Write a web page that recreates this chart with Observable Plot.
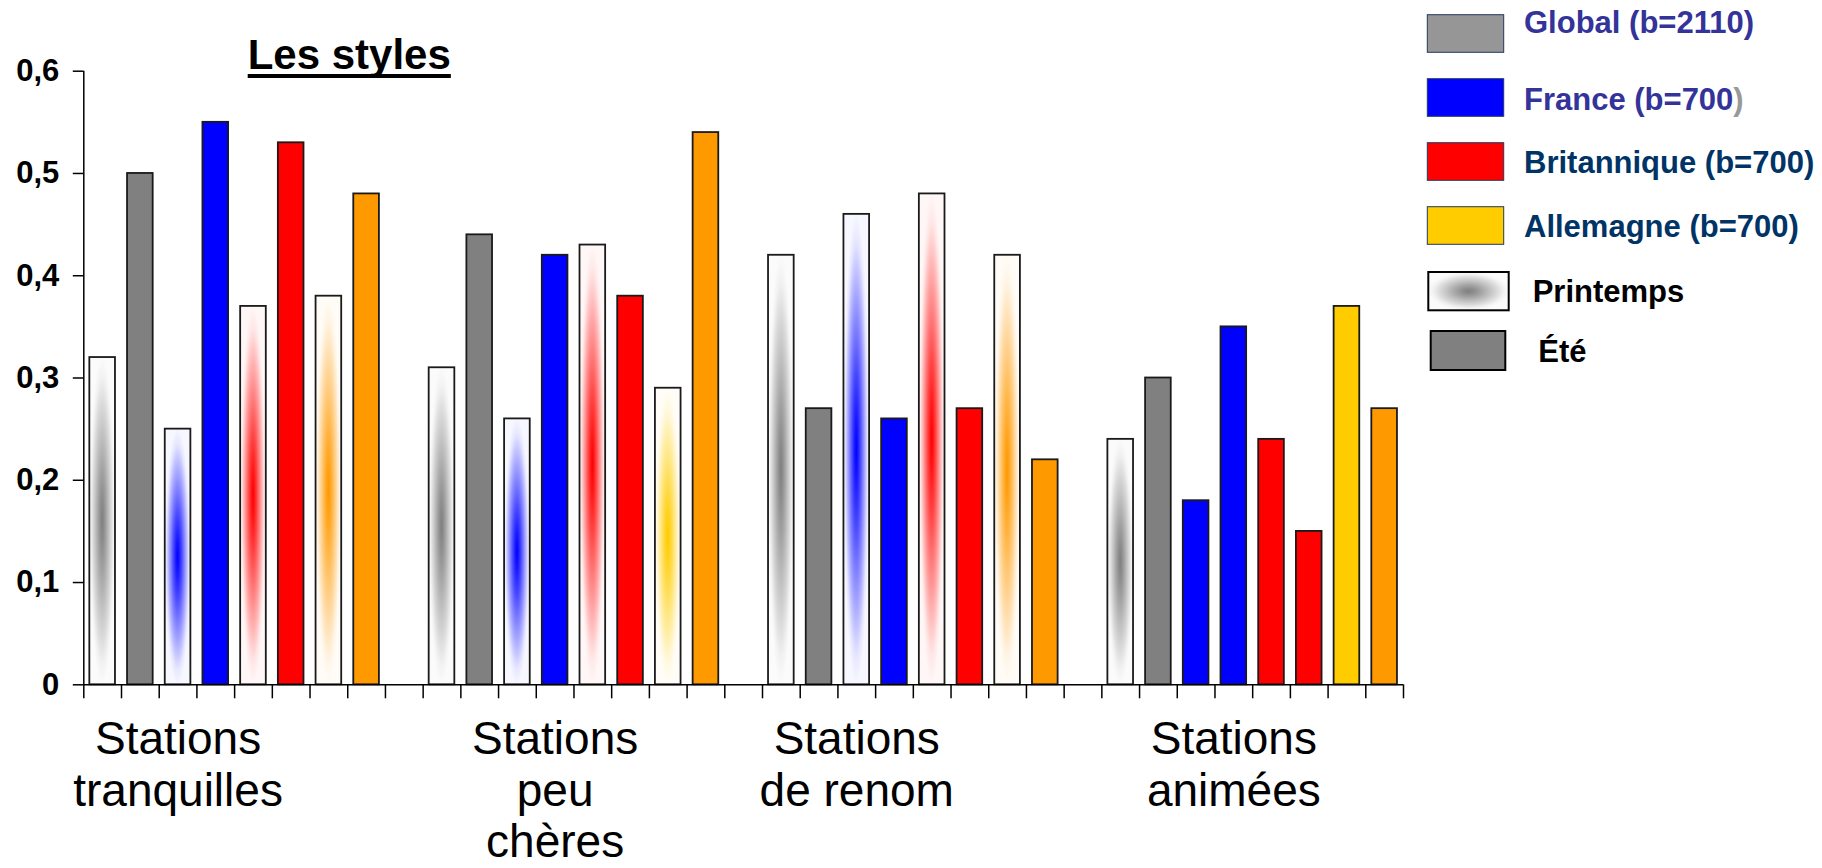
<!DOCTYPE html>
<html lang="fr">
<head>
<meta charset="utf-8">
<script src="https://cdn.jsdelivr.net/npm/d3@7"></script>
<script src="https://cdn.jsdelivr.net/npm/@observablehq/plot@0.6"></script>
<style>
  html, body { margin: 0; padding: 0; background: #fff; }
  #wrap { position: relative; width: 1822px; height: 868px; overflow: hidden; }
  #wrap svg { position: absolute; left: 0; top: 0; }
  text { font-family: "Liberation Sans", Arial, sans-serif; }
</style>
</head>
<body>
<div id="wrap">
  <svg id="defs" width="0" height="0"><defs></defs></svg>
</div>
<script>
// ---- Data ----
const categories = ["Stations\ntranquilles", "Stations\npeu\nchères", "Stations\nde renom", "Stations\nanimées"];
const series = ["Global (b=2110)", "France (b=700)", "Britannique (b=700)", "Allemagne (b=700)"];
const seasons = ["Printemps", "Été"];

// values per category (rows) and series (columns)
const printemps = [
  [0.32, 0.25, 0.37, 0.38],
  [0.31, 0.26, 0.43, 0.29],
  [0.42, 0.46, 0.48, 0.42],
  [0.24, 0.18, 0.24, 0.37]
];
const ete = [
  [0.50, 0.55, 0.53, 0.48],
  [0.44, 0.42, 0.38, 0.54],
  [0.27, 0.26, 0.27, 0.22],
  [0.30, 0.35, 0.15, 0.27]
];

const yTicks = [0, 0.1, 0.2, 0.3, 0.4, 0.5, 0.6];
const yTickLabels = ["0", "0,1", "0,2", "0,3", "0,4", "0,5", "0,6"];

// ---- Styles ----
const palette = {gray: "#808080", blue: "#0000ff", red: "#ff0000", orange: "#ff9900", yellow: "#ffcc00"};
const eteFill = [palette.gray, palette.blue, palette.red, palette.orange];
const printempsFill = [
  ["url(#fade-gray)", "url(#fade-blue)", "url(#fade-red)", "url(#fade-orange)"],
  ["url(#fade-gray)", "url(#fade-blue)", "url(#fade-red)", "url(#fade-yellow)"],
  ["url(#fade-gray)", "url(#fade-blue)", "url(#fade-red)", "url(#fade-orange)"],
  ["url(#fade-gray)", palette.blue, palette.red, palette.yellow]
];
const legendFill = ["#969696", palette.blue, palette.red, palette.yellow];
const legendTextColor = ["#333399", "#333399", "#003366", "#003366"];
const slotsPerGroup = 9;            // 8 bars + 1 empty slot
const labelSlot = [2.5, 12.5, 20.5, 30.5];

// Radial "fade to white" fills for the spring bars
const defs = d3.select("#defs defs");
for (const [name, c] of Object.entries(palette)) {
  const g = defs.append("radialGradient").attr("id", "fade-" + name)
    .attr("cx", 0.5).attr("cy", 0.5).attr("r", 0.5);
  const mix = d3.interpolateRgb("#ffffff", c);
  [[0, 1], [0.14, 0.9], [0.32, 0.72], [0.52, 0.5], [0.72, 0.28], [0.88, 0.1], [1, 0.03]]
    .forEach(([o, v]) => g.append("stop").attr("offset", o).attr("stop-color", mix(v)));
}

// ---- Rows ----
const rows = [];
categories.forEach((cat, g) => {
  series.forEach((s, k) => {
    rows.push({cat, series: s, season: seasons[0], value: printemps[g][k], slot: g * slotsPerGroup + 2 * k, fill: printempsFill[g][k]});
    rows.push({cat, series: s, season: seasons[1], value: ete[g][k], slot: g * slotsPerGroup + 2 * k + 1, fill: eteFill[k]});
  });
});

const chart = Plot.plot({
  width: 1822,
  height: 868,
  marginLeft: 83.3,
  marginRight: 419,
  marginTop: 70.7,
  marginBottom: 183.7,
  x: {domain: [0, categories.length * slotsPerGroup - 1]},
  y: {domain: [0, 0.6]},
  color: {type: "identity"},
  style: {fontFamily: "'Liberation Sans', Arial, sans-serif", color: "#000", background: "transparent", overflow: "visible"},
  marks: [
    Plot.rect(rows, {
      x1: d => d.slot + 0.16,
      x2: d => d.slot + 0.84,
      y1: () => 0,
      y2: "value",
      fill: "fill",
      stroke: "#1a1a1a",
      strokeWidth: 1.8
    }),
    Plot.ruleX([0], {stroke: "#000", strokeWidth: 1.5}),
    Plot.ruleY([0], {stroke: "#000", strokeWidth: 1.5}),
    Plot.axisY(yTicks, {
      tickSize: 10.5, tickPadding: 14, strokeWidth: 1.5,
      tickFormat: d => yTickLabels[yTicks.indexOf(d)],
      fontSize: 31, fontWeight: "bold", label: null
    }),
    Plot.axisX(d3.range(categories.length * slotsPerGroup), {
      tickSize: 14, strokeWidth: 1.5, tickFormat: () => "", label: null
    }),
    Plot.text(categories, {
      x: (d, i) => labelSlot[i],
      y: () => 0,
      text: d => d,
      lineAnchor: "top",
      dy: 33,
      lineHeight: 1.12,
      fontSize: 46,
      fill: "#000"
    })
  ]
});
document.getElementById("wrap").appendChild(chart);

// ---- Title and legend ----
const ov = d3.select("#wrap").append("svg")
  .attr("width", 1822).attr("height", 868)
  .style("pointer-events", "none");

const title = ov.append("text").attr("x", 247.7).attr("y", 69)
  .attr("font-size", 42).attr("font-weight", "bold").attr("fill", "#000").text("Les styles");
const tw = title.node().getComputedTextLength();
ov.append("rect").attr("x", 247.7).attr("y", 74).attr("width", tw).attr("height", 4).attr("fill", "#000");

const swatchY = [14.7, 78.7, 142.7, 206.7];
const textY = [33.3, 109.7, 172.7, 236.7];
series.forEach((s, i) => {
  ov.append("rect").attr("x", 1427.3).attr("y", swatchY[i]).attr("width", 76.4).attr("height", 37.6)
    .attr("fill", legendFill[i]).attr("stroke", "#1f3a60").attr("stroke-width", 1);
  const t = ov.append("text").attr("x", 1524).attr("y", textY[i])
    .attr("font-size", 31).attr("font-weight", "bold").attr("fill", legendTextColor[i]);
  if (i === 1) {
    t.append("tspan").text(s.slice(0, -1));
    t.append("tspan").attr("fill", "#999").text(")");
  } else {
    t.text(s);
  }
});

ov.append("rect").attr("x", 1428.3).attr("y", 272).attr("width", 80.4).attr("height", 38.3)
  .attr("fill", "url(#fade-gray)").attr("stroke", "#000").attr("stroke-width", 2);
ov.append("text").attr("x", 1532.7).attr("y", 301.7).attr("font-size", 31).attr("font-weight", "bold")
  .attr("fill", "#000").text(seasons[0]);
ov.append("rect").attr("x", 1430.7).attr("y", 331).attr("width", 74.6).attr("height", 39)
  .attr("fill", palette.gray).attr("stroke", "#000").attr("stroke-width", 2);
ov.append("text").attr("x", 1538.3).attr("y", 361.7).attr("font-size", 31).attr("font-weight", "bold")
  .attr("fill", "#000").text(seasons[1]);
</script>
</body>
</html>
